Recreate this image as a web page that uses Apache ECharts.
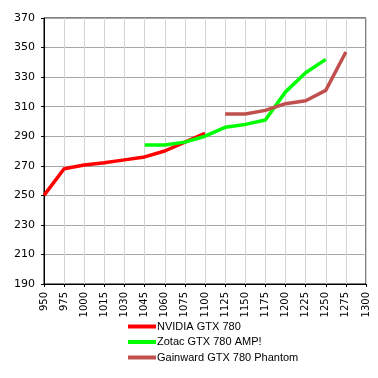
<!DOCTYPE html>
<html>
<head>
<meta charset="utf-8">
<script src="https://cdn.jsdelivr.net/npm/echarts@6/dist/echarts.min.js"></script>
<style>
  html, body { margin: 0; padding: 0; background: #fff; }
  #main { width: 378px; height: 378px; }
</style>
</head>
<body>
<div id="main"></div>
<script>
// clock steps on the x axis (category labels as printed)
const clocks = ['950', '975', '1000', '1015', '1030', '1045', '1060', '1075', '1100',
  '1125', '1150', '1175', '1200', '1225', '1250', '1275', '1300'];

const nvidia = [250, 268, 270.5, 272, 274, 276, 280, 286, 292,
  null, null, null, null, null, null, null, null];
const zotac = [null, null, null, null, null, 284, 284, 286, 290,
  296, 298, 301, 320, 333, 342, null, null];
const gainward = [null, null, null, null, null, null, null, null, null,
  305, 305, 307.5, 312, 314, 321, 347, null];

const chart = echarts.init(document.getElementById('main'));

function line(name, data, color) {
  return {
    name: name,
    type: 'line',
    data: data,
    showSymbol: false,
    symbol: 'none',
    itemStyle: { color: color },
    lineStyle: { color: color, width: 3.5 },
    animation: false
  };
}

chart.setOption({
  animation: false,
  textStyle: { fontFamily: 'DejaVu Sans' },
  grid: { left: 44, right: 12, top: 18, bottom: 94, show: true, borderColor: '#000', borderWidth: 1 },
  legend: {
    orient: 'vertical',
    left: 123,
    top: 316,
    itemWidth: 28,
    itemHeight: 4,
    itemGap: 4.5,
    icon: 'rect',
    textStyle: { fontSize: 11, fontFamily: 'Liberation Sans', color: '#000', padding: [0, 0, 0, -4] },
    data: ['NVIDIA GTX 780', 'Zotac GTX 780 AMP!', 'Gainward GTX 780 Phantom']
  },
  xAxis: {
    type: 'category',
    data: clocks,
    boundaryGap: false,
    axisLine: { lineStyle: { color: '#000' } },
    axisTick: { show: true, length: 3, lineStyle: { color: '#000' } },
    axisLabel: { rotate: 90, fontSize: 10, color: '#000', margin: 8, interval: 0 },
    splitLine: { show: true, interval: 0, lineStyle: { color: '#d4d4d4' } }
  },
  yAxis: {
    type: 'value',
    min: 190,
    max: 370,
    interval: 20,
    axisLine: { show: true, lineStyle: { color: '#000' } },
    axisTick: { show: true, length: 3, lineStyle: { color: '#000' } },
    axisLabel: { fontSize: 11, color: '#000', margin: 9 },
    splitLine: { lineStyle: { color: '#a6a6a6' } }
  },
  series: [
    line('NVIDIA GTX 780', nvidia, '#ff0000'),
    line('Zotac GTX 780 AMP!', zotac, '#00ff00'),
    line('Gainward GTX 780 Phantom', gainward, '#c0504d')
  ]
});
</script>
</body>
</html>
